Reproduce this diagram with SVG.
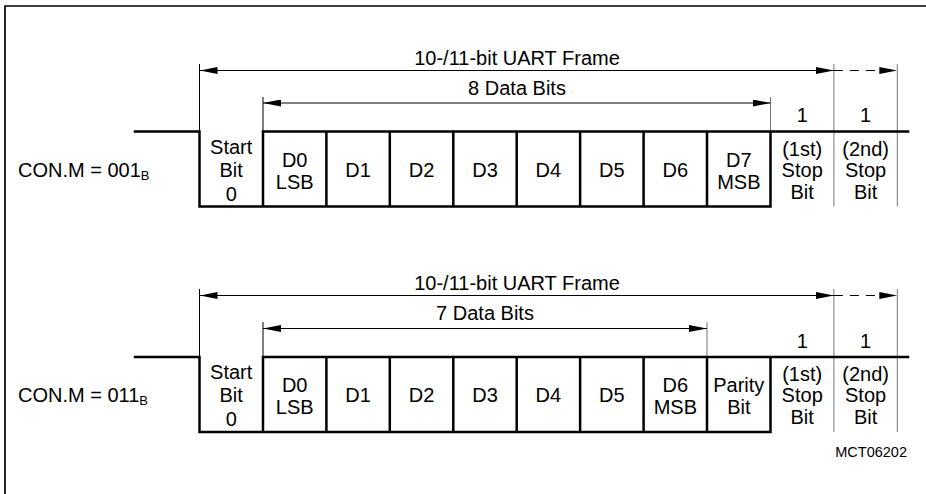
<svg xmlns="http://www.w3.org/2000/svg" width="926" height="494" viewBox="0 0 926 494">
<style>
text{font-family:"Liberation Sans",Arial,sans-serif;font-size:20px;fill:#000;text-anchor:middle}
.sub{font-size:13px}
.id{font-size:14.5px;text-anchor:end}
.lbl{text-anchor:start}
.sig{fill:none;stroke:#000;stroke-width:2.5;stroke-linecap:square}
.dim{fill:none;stroke:#000;stroke-width:1}
.tick{fill:none;stroke:#000;stroke-width:1}
.grey{fill:none;stroke:#777;stroke-width:1}
.dash{stroke-dasharray:9 7}
.frame{fill:none;stroke:#000;stroke-width:1.7}
</style>
<defs>
<marker id="ah" viewBox="0 0 18 7" markerWidth="18" markerHeight="7" refX="18" refY="3.5" orient="auto-start-reverse" markerUnits="userSpaceOnUse">
<path d="M0,0 L18,3.5 L0,7 Z" fill="#000"/>
</marker>
</defs>
<rect width="926" height="494" fill="#fff"/>
<path class="frame" d="M5,494 V6 H926"/>

<g id="row1-label"><text class="lbl" x="18" y="177">CON.M = 001<tspan class="sub" dy="3">B</tspan></text></g>
<g id="row2-label"><text class="lbl" x="18" y="402">CON.M = 011<tspan class="sub" dy="3">B</tspan></text></g>

<g id="connectors">
<!-- row 1 -->
<line class="tick" x1="199.5" y1="64" x2="199.5" y2="131.5"/>
<line class="tick" x1="263" y1="97" x2="263" y2="131.5"/>
<line class="grey" x1="770.5" y1="97" x2="770.5" y2="131.5"/>
<line class="grey" x1="833.9" y1="64" x2="833.9" y2="206.5"/>
<line class="grey" x1="897.3" y1="64" x2="897.3" y2="206.5"/>
<line class="dim" x1="199.5" y1="70.5" x2="833.9" y2="70.5" marker-start="url(#ah)" marker-end="url(#ah)"/>
<line class="dim dash" x1="833.9" y1="70.5" x2="897.3" y2="70.5" marker-end="url(#ah)"/>
<line class="dim" x1="263" y1="103" x2="770.5" y2="103" marker-start="url(#ah)" marker-end="url(#ah)"/>
<!-- row 2 -->
<line class="tick" x1="199.5" y1="289" x2="199.5" y2="357"/>
<line class="tick" x1="263" y1="322" x2="263" y2="357"/>
<line class="grey" x1="707" y1="322" x2="707" y2="357"/>
<line class="grey" x1="833.9" y1="289" x2="833.9" y2="432"/>
<line class="grey" x1="897.3" y1="289" x2="897.3" y2="432"/>
<line class="dim" x1="199.5" y1="295.5" x2="833.9" y2="295.5" marker-start="url(#ah)" marker-end="url(#ah)"/>
<line class="dim dash" x1="833.9" y1="295.5" x2="897.3" y2="295.5" marker-end="url(#ah)"/>
<line class="dim" x1="263" y1="328.5" x2="707" y2="328.5" marker-start="url(#ah)" marker-end="url(#ah)"/>
</g>

<g id="dim-labels">
<text x="517" y="65">10-/11-bit UART Frame</text>
<text x="517" y="95">8 Data Bits</text>
<text x="802.2" y="122">1</text>
<text x="865.6" y="122">1</text>
<text x="517" y="290">10-/11-bit UART Frame</text>
<text x="485" y="320">7 Data Bits</text>
<text x="802.2" y="347.5">1</text>
<text x="865.6" y="347.5">1</text>
</g>

<g id="signal1">
<path class="sig" d="M135,131.5 H199.5 V206.5 H770.5 V131.5 M263,206.5 V131.5 H908 M326.4,131.5 V206.5 M389.8,131.5 V206.5 M453.3,131.5 V206.5 M516.7,131.5 V206.5 M580.1,131.5 V206.5 M643.6,131.5 V206.5 M707,131.5 V206.5"/>
</g>
<g id="signal2">
<path class="sig" d="M135,357 H199.5 V432 H770.5 V357 M263,432 V357 H908 M326.4,357 V432 M389.8,357 V432 M453.3,357 V432 M516.7,357 V432 M580.1,357 V432 M643.6,357 V432 M707,357 V432"/>
</g>

<g id="r1-start"><text x="231.2" y="153.5">Start</text><text x="231.2" y="177">Bit</text><text x="231.2" y="200.5">0</text></g>
<g id="r1-d0"><text x="294.7" y="166.5">D0</text><text x="294.7" y="188.5">LSB</text></g>
<g id="r1-d1"><text x="358.1" y="176.5">D1</text></g>
<g id="r1-d2"><text x="421.6" y="176.5">D2</text></g>
<g id="r1-d3"><text x="485" y="176.5">D3</text></g>
<g id="r1-d4"><text x="548.4" y="176.5">D4</text></g>
<g id="r1-d5"><text x="611.9" y="176.5">D5</text></g>
<g id="r1-d6"><text x="675.3" y="176.5">D6</text></g>
<g id="r1-d7"><text x="738.8" y="166.5">D7</text><text x="738.8" y="188.5">MSB</text></g>
<g id="r1-stop1"><text x="802.2" y="155.5">(1st)</text><text x="802.2" y="177">Stop</text><text x="802.2" y="198.5">Bit</text></g>
<g id="r1-stop2"><text x="865.6" y="155.5">(2nd)</text><text x="865.6" y="177">Stop</text><text x="865.6" y="198.5">Bit</text></g>

<g id="r2-start"><text x="231.2" y="378.5">Start</text><text x="231.2" y="402">Bit</text><text x="231.2" y="425.5">0</text></g>
<g id="r2-d0"><text x="294.7" y="391.5">D0</text><text x="294.7" y="413.5">LSB</text></g>
<g id="r2-d1"><text x="358.1" y="401.5">D1</text></g>
<g id="r2-d2"><text x="421.6" y="401.5">D2</text></g>
<g id="r2-d3"><text x="485" y="401.5">D3</text></g>
<g id="r2-d4"><text x="548.4" y="401.5">D4</text></g>
<g id="r2-d5"><text x="611.9" y="401.5">D5</text></g>
<g id="r2-d6"><text x="675.3" y="391.5">D6</text><text x="675.3" y="413.5">MSB</text></g>
<g id="r2-parity"><text x="738.8" y="391.5">Parity</text><text x="738.8" y="413.5">Bit</text></g>
<g id="r2-stop1"><text x="802.2" y="380.5">(1st)</text><text x="802.2" y="402">Stop</text><text x="802.2" y="423.5">Bit</text></g>
<g id="r2-stop2"><text x="865.6" y="380.5">(2nd)</text><text x="865.6" y="402">Stop</text><text x="865.6" y="423.5">Bit</text></g>

<g id="figure-id"><text class="id" x="907" y="457">MCT06202</text></g>
</svg>
